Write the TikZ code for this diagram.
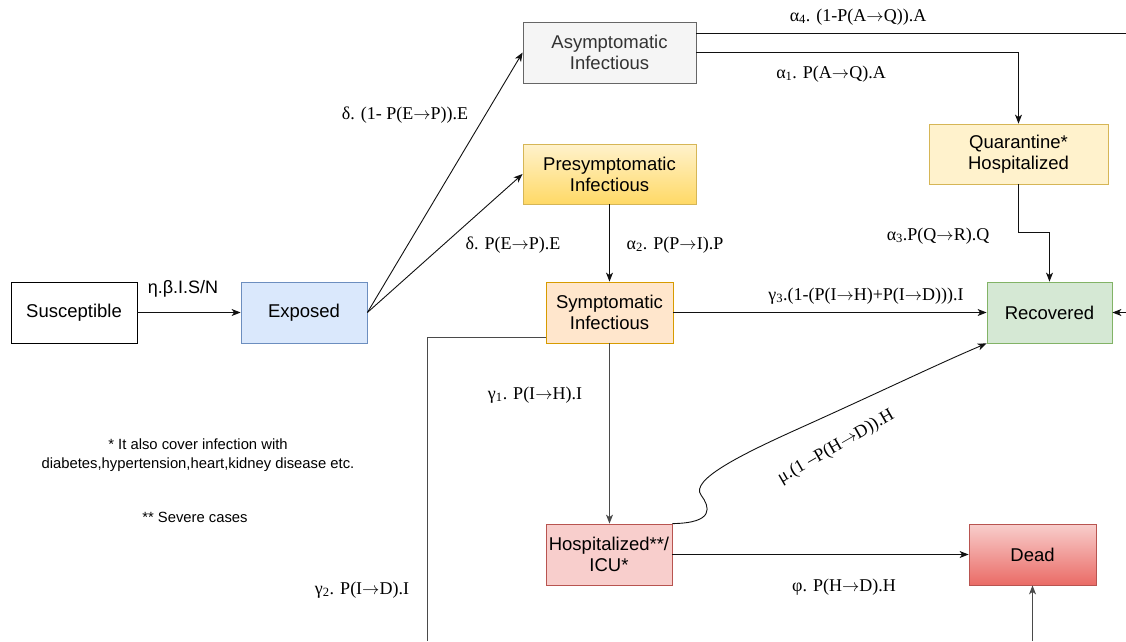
\documentclass[tikz,border=0pt]{standalone}
\usepackage{fontspec}
\setmainfont{Liberation Serif}
\newfontfamily\boxfont{Liberation Sans}
\usetikzlibrary{arrows.meta}
\newcommand\tarr{\ensuremath{\rightarrow}}
\definecolor{expfill}{HTML}{DAE8FC}\definecolor{expdraw}{HTML}{6C8EBF}
\definecolor{asyfill}{HTML}{F5F5F5}\definecolor{asydraw}{HTML}{666666}\definecolor{asytext}{HTML}{333333}
\definecolor{yeltop}{HTML}{FFF2CC}\definecolor{yelbot}{HTML}{FFD966}\definecolor{yeldraw}{HTML}{D6B656}
\definecolor{orfill}{HTML}{FFE6CC}\definecolor{ordraw}{HTML}{D79B00}
\definecolor{grfill}{HTML}{D5E8D4}\definecolor{grdraw}{HTML}{82B366}
\definecolor{redfill}{HTML}{F8CECC}\definecolor{reddraw}{HTML}{B85450}\definecolor{redbot}{HTML}{EA6B66}
\definecolor{lnk}{HTML}{111111}\definecolor{lnkgray}{HTML}{4A4A4A}
\tikzset{
  stbox/.style={draw, line width=0.8pt, inner sep=0pt, align=center,
    minimum width=126pt, minimum height=61pt,
    font=\boxfont\fontsize{18.5}{21}\selectfont},
  arr/.style={draw=lnk, line width=0.9pt, -{Stealth[length=9pt,width=7pt,inset=2.5pt]}},
  ln/.style={draw=lnk, line width=0.9pt},
  lbl/.style={inner sep=0pt, font=\fontsize{18}{20}\selectfont},
  note/.style={inner sep=0pt, align=center, font=\boxfont\fontsize{14.8}{19}\selectfont}
}
\begin{document}
\begin{tikzpicture}[x=1pt,y=-1pt]
\useasboundingbox[fill=white] (0,0) rectangle (1126,641);
% boxes
\node[stbox, fill=white] (S) at (74,312.5) {Susceptible};
\node[stbox, fill=expfill, draw=expdraw] (E) at (304,312.5) {Exposed};
\node[stbox, fill=asyfill, draw=asydraw, text=asytext, minimum width=173pt] (A) at (609.5,52.5) {Asymptomatic\\Infectious};
\node[stbox, top color=yeltop, bottom color=yelbot, draw=yeldraw, minimum width=173pt, minimum height=60pt] (P) at (609.5,174) {Presymptomatic\\Infectious};
\node[stbox, fill=orfill, draw=ordraw, minimum width=127pt] (I) at (609.5,312.5) {Symptomatic\\Infectious};
\node[stbox, fill=yeltop, draw=yeldraw, minimum width=179pt, minimum height=60pt] (Q) at (1018.5,154) {Quarantine*\\Hospitalized};
\node[stbox, fill=grfill, draw=grdraw, minimum width=125pt] (R) at (1049.5,312.5) {Recovered};
\node[stbox, fill=redfill, draw=reddraw] (H) at (609,554.5) {Hospitalized**/\\ICU*};
\node[stbox, top color=redfill, bottom color=redbot, draw=reddraw, minimum width=127pt] (D) at (1032.5,554.5) {Dead};
% free ends
\coordinate (aout) at (1126,33);
\coordinate (rin) at (1126,312.5);
\coordinate (ibot) at (427,641);
\coordinate (dbot) at (1032.5,641);
% connectors
\draw[arr] (S) -- (E);
\draw[arr] (E.east) -- (A.west);
\draw[arr] (E.east) -- (P.west);
\draw[ln] ([yshift=19.5pt]A.east) -- (aout);
\draw[arr] (A.east) -| (Q.north);
\draw[arr] (P.south) -- (I.north);
\draw[arr] (Q.south) -- ++(0,48) -| (R.north);
\draw[arr] (I.east) -- (R.west);
\draw[arr] (rin) -- (R.east);
\draw[arr, draw=lnkgray] (I.south) -- (I.south |- H.north);
\draw[ln, draw=lnkgray] ([yshift=-24.5pt]I.west) -| (ibot);
\draw[arr] (H.east) -- (D.west);
\draw[arr, draw=lnkgray] (dbot) -- (D.south);
\draw[arr] (H.north east) .. controls (715,523) and (710,507) .. (701,495)
  .. controls (690,480) and (740,455) .. (800,428)
  .. controls (880,392) and (940,363) .. (R.south west);
% labels
\node[lbl, font=\boxfont\fontsize{18}{20}\selectfont] (l1) at (183,289) {η.β.I.S/N};
\node[lbl] (l2) at (405,115) {δ. (1- P(E\tarr P)).E};
\node[lbl] (l3) at (513,245) {δ. P(E\tarr P).E};
\node[lbl] (l4) at (858,17) {α\textsubscript{4}. (1-P(A\tarr Q)).A};
\node[lbl] (l5) at (831,74) {α\textsubscript{1}. P(A\tarr Q).A};
\node[lbl] (l6) at (675,245) {α\textsubscript{2}. P(P\tarr I).P};
\node[lbl] (l7) at (938,236) {α\textsubscript{3}.P(Q\tarr R).Q};
\node[lbl] (l8) at (866,296) {γ\textsubscript{3}.(1-(P(I\tarr H)+P(I\tarr D))).I};
\node[lbl] (l9) at (535,395) {γ\textsubscript{1}. P(I\tarr H).I};
\node[lbl] (l10) at (362,590) {γ\textsubscript{2}. P(I\tarr D).I};
\node[lbl] (l11) at (844,587) {φ. P(H\tarr D).H};
\node[lbl, rotate=30] (l12) at (836,447) {μ.(1 –P(H\tarr D)).H};
% notes
\node[note] (n1) at (198,455) {* It also cover infection with\\diabetes,hypertension,heart,kidney disease etc.};
\node[note] (n2) at (195,517) {** Severe cases};
\end{tikzpicture}
\end{document}
